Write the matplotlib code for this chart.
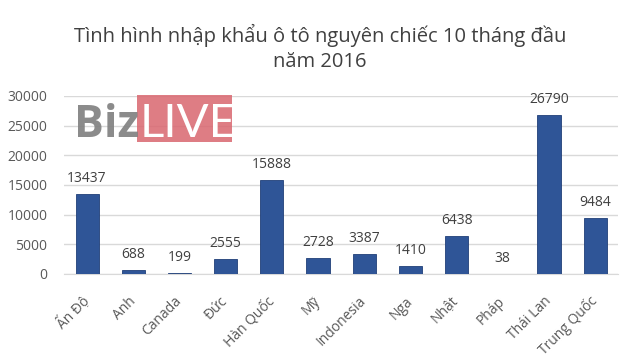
import matplotlib.pyplot as plt
from matplotlib.patches import Rectangle

plt.rcParams['font.family'] = ['Open Sans', 'DejaVu Sans']

countries = ["Ấn Độ", "Anh", "Canada", "Đức", "Hàn Quốc", "Mỹ", "Indonesia",
             "Nga", "Nhật", "Pháp", "Thái Lan", "Trung Quốc"]
cars = [13437, 688, 199, 2555, 15888, 2728, 3387, 1410, 6438, 38, 26790, 9484]
yticks = [0, 5000, 10000, 15000, 20000, 25000, 30000]

fig = plt.figure(figsize=(6.4, 3.59), dpi=100)
ax = fig.add_axes([0.1, 0.237, 0.866, 0.496])

x = range(len(countries))
ax.bar(x, cars, width=0.5, color="#2f5597", edgecolor="#203f78", linewidth=0.6, zorder=3)
for i, v in zip(x, cars):
    ax.text(i, v + 1300, str(v), ha="center", va="bottom", fontsize=10, color="#404040")

ax.set_xlim(-0.5, len(countries) - 0.5)
ax.set_ylim(0, 30000)
ax.set_yticks(yticks)
ax.set_yticklabels([str(t) for t in yticks], fontsize=10, color="#595959")
ax.set_xticks(list(x))
ax.set_xticklabels(countries, rotation=45, ha="right", va="center", rotation_mode="anchor",
                   fontsize=10, color="#595959")
ax.tick_params(axis="both", length=0)
ax.tick_params(axis="y", pad=12)
ax.tick_params(axis="x", pad=18)
ax.grid(axis="y", color="#d9d9d9", linewidth=1, zorder=0)
for s in ["top", "right", "left"]:
    ax.spines[s].set_visible(False)
ax.spines["bottom"].set_color("#d9d9d9")

fig.text(0.5, 0.866, "Tình hình nhập khẩu ô tô nguyên chiếc 10 tháng đầu\nnăm 2016",
         ha="center", va="center", fontsize=14.5, color="#404040", linespacing=1.3)

# watermark
fig.text(0.115, 0.618, "Biz", fontsize=32, fontweight="bold", color="#7f7f7f",
         alpha=0.9, va="baseline", ha="left", zorder=6)
fig.patches.append(Rectangle((0.214, 0.604), 0.149, 0.131, transform=fig.transFigure,
                             facecolor="#d9666f", alpha=0.85, edgecolor="none", zorder=5))
fig.text(0.2185, 0.618, "LIVE", fontsize=34, fontweight="normal", color="white",
         va="baseline", ha="left", zorder=6, family=["Lato", "Open Sans", "DejaVu Sans"])

fig.savefig("out.png", dpi=100)
